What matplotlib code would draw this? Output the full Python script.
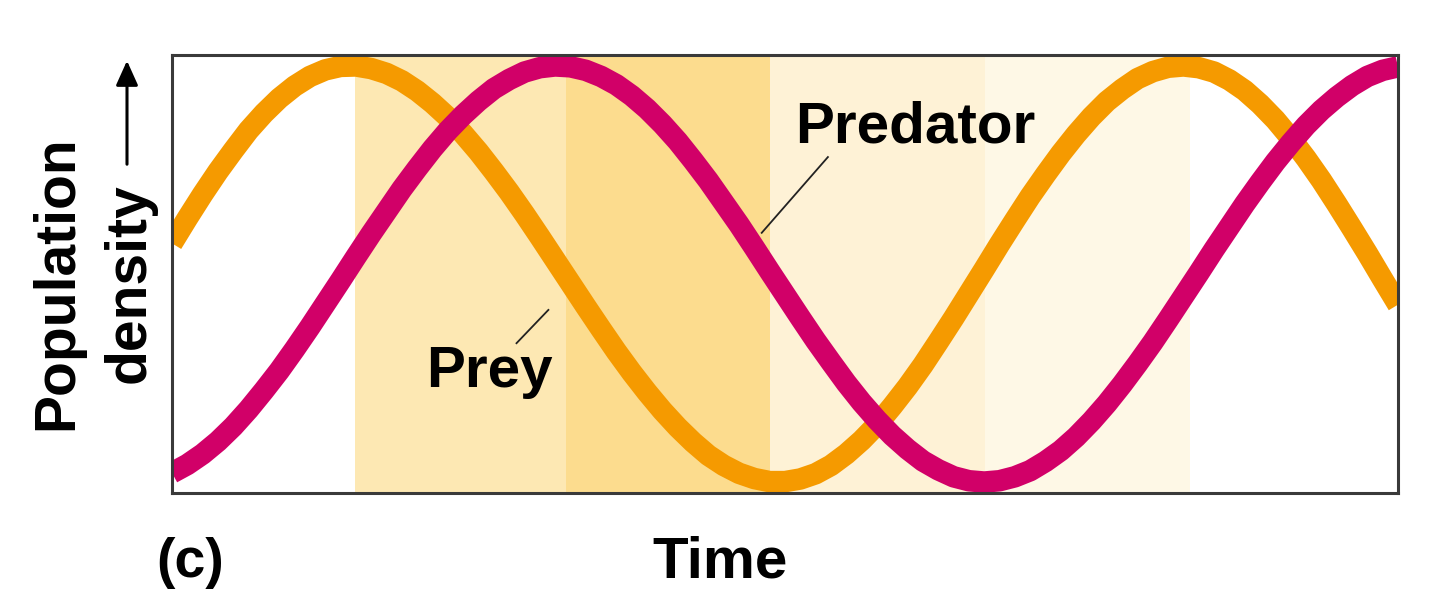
import matplotlib
matplotlib.use("Agg")
import matplotlib.pyplot as plt

# values (time 0-100, density 0-100)
time = [0, 1.25, 2.5, 3.75, 5, 6.25, 7.5, 8.75, 10, 11.25, 12.5, 13.75, 15, 16.25,
        17.5, 18.75, 20, 21.25, 22.5, 23.75, 25, 26.25, 27.5, 28.75, 30, 31.25,
        32.5, 33.75, 35, 36.25, 37.5, 38.75, 40, 41.25, 42.5, 43.75, 45, 46.25,
        47.5, 48.75, 50, 51.25, 52.5, 53.75, 55, 56.25, 57.5, 58.75, 60, 61.25,
        62.5, 63.75, 65, 66.25, 67.5, 68.75, 70, 71.25, 72.5, 73.75, 75, 76.25,
        77.5, 78.75, 80, 81.25, 82.5, 83.75, 85, 86.25, 87.5, 88.75, 90, 91.25,
        92.5, 93.75, 95, 96.25, 97.5, 98.75, 100]
prey = [57.0, 62.7, 68.2, 73.4, 78.2, 82.8, 86.7, 90.1, 92.9, 95.1, 96.6, 97.4,
        97.5, 96.9, 95.8, 94.1, 91.8, 89.0, 85.8, 82.0, 77.9, 73.4, 68.7, 63.7,
        58.5, 53.2, 47.9, 42.6, 37.4, 32.3, 27.5, 23.0, 18.8, 15.0, 11.6, 8.6,
        6.3, 4.5, 3.3, 2.6, 2.6, 3.2, 4.4, 6.3, 8.9, 12.0, 15.6, 19.8, 24.3, 29.2,
        34.5, 39.9, 45.5, 51.1, 56.8, 62.3, 67.7, 72.7, 77.5, 81.9, 85.9, 89.4,
        92.2, 94.6, 96.2, 97.2, 97.5, 97.1, 96.1, 94.3, 91.9, 88.8, 85.2, 81.0,
        76.4, 71.4, 66.0, 60.4, 54.7, 48.8, 43.0]
predator = [4.6, 6.5, 8.9, 11.8, 15.2, 19.1, 23.4, 27.9, 32.8, 37.9, 43.2, 48.5,
            53.9, 59.2, 64.3, 69.4, 74.1, 78.6, 82.7, 86.3, 89.5, 92.3, 94.4, 96.1,
            97.1, 97.5, 97.3, 96.5, 95.1, 93.2, 90.7, 87.7, 84.2, 80.3, 75.9, 71.3,
            66.3, 61.3, 56.0, 50.6, 45.3, 40.0, 34.8, 29.9, 25.1, 20.7, 16.7, 13.1,
            10.0, 7.3, 5.3, 3.7, 2.8, 2.5, 2.8, 3.7, 5.1, 7.2, 9.7, 12.8, 16.4, 20.4,
            24.8, 29.5, 34.4, 39.6, 44.9, 50.2, 55.6, 60.8, 66.0, 70.9, 75.6, 79.9,
            83.9, 87.4, 90.4, 93.0, 95.1, 96.5, 97.3]

band_edges = [14.9, 32.1, 48.8, 66.3, 83.0]
band_colors = ["#fde8b3", "#fcdc8e", "#fef2d6", "#fef8e6"]

W, H = 1440, 610
fig = plt.figure(figsize=(W / 100, H / 100), dpi=100)
ax = fig.add_axes([172 / W, 1 - 493 / H, (1398 - 172) / W, (493 - 55) / H])

for i, c in enumerate(band_colors):
    ax.axvspan(band_edges[i], band_edges[i + 1], color=c, lw=0, zorder=0)

ax.plot(time, prey, color="#f59a00", lw=15.5, solid_capstyle="butt",
        solid_joinstyle="round", zorder=2)
ax.plot(time, predator, color="#d10068", lw=15.5, solid_capstyle="butt",
        solid_joinstyle="round", zorder=3)

ax.set_xlim(0, 100)
ax.set_ylim(0, 100)
ax.set_xticks([])
ax.set_yticks([])
for s in ax.spines.values():
    s.set_color("#3a3a3a")
    s.set_linewidth(2.2)
    s.set_zorder(5)

font = dict(family="Liberation Sans", weight="bold", color="black")

ax.text(60.6, 80.1, "Predator", ha="center", va="baseline", fontsize=42, zorder=6, **font)
ax.plot([53.5, 48.1], [76.7, 59.4], color="#222222", lw=1.3, zorder=6)
ax.text(25.9, 24.2, "Prey", ha="center", va="baseline", fontsize=42, zorder=6, **font)
ax.plot([28.1, 30.7], [34.2, 41.8], color="#222222", lw=1.3, zorder=6)

fig.text(57 / W, 1 - 283 / H, "Population", rotation=90, ha="center", va="center",
         fontsize=41, **font)
fig.text(130 / W, 1 - 283 / H, "density", rotation=90, ha="center", va="center",
         fontsize=41, **font)
fig.add_artist(matplotlib.patches.FancyArrowPatch(
    (127 / W, 1 - 167 / H), (127 / W, 1 - 58 / H), transform=fig.transFigure,
    arrowstyle="-|>,head_length=10,head_width=4.5", lw=2.2, color="black",
    mutation_scale=1.5))

fig.text(720 / W, 1 - 563 / H, "Time", ha="center", va="center", fontsize=42, **font)
fig.text(190 / W, 1 - 563 / H, "(c)", ha="center", va="center", fontsize=40, **font)

fig.savefig("out.png", dpi=100, facecolor="white")
